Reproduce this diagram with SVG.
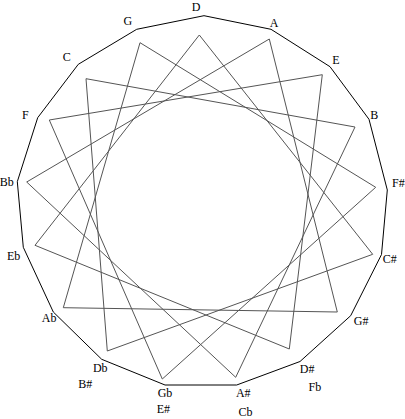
<svg xmlns="http://www.w3.org/2000/svg" width="405" height="419" viewBox="0 0 405 419">
<style>
text{font-family:"Liberation Serif","Times New Roman",serif;font-size:12px;fill:#000;text-anchor:middle}
.outer{fill:none;stroke:#000;stroke-width:1}
.star{fill:none;stroke:#555;stroke-width:1}
</style>
<rect width="405" height="419" fill="#fff"/>
<g id="outline">
<polygon class="outer" points="204,15.7 271,29.3 330,66.7 369,119.3 387.3,190 381.5,254.5 350.7,315.7 300,361.5 236.7,385 165,385 101.7,359.3 53.3,312 23.3,247.3 17.3,181.7 37.7,117.7 78.3,64.3 136.7,29.3"/>
</g>
<g id="connectors">
<polygon class="star" points="199.3,35 372.7,254.3 107.3,351 86,78.7 355,127 235.7,377.3 26.7,182 269.3,39 337.3,312 63.3,307.7 140,42.7 375.7,187.3 162.3,379 49.3,120 322.3,74.7 289.3,349 35,245.3"/>
</g>
<g id="node-D"><text x="196" y="11">D</text></g>
<g id="node-A"><text x="274.2" y="26.7">A</text></g>
<g id="node-E"><text x="336" y="64">E</text></g>
<g id="node-B"><text x="374.3" y="119">B</text></g>
<g id="node-Fsharp"><text x="398.3" y="186.7">F#</text></g>
<g id="node-Csharp"><text x="389.7" y="262.7">C#</text></g>
<g id="node-Gsharp"><text x="361.2" y="325.3">G#</text></g>
<g id="node-Dsharp"><text x="307.2" y="373.3">D#</text><text x="314.8" y="391">Fb</text></g>
<g id="node-Asharp"><text x="243.3" y="396.7">A#</text><text x="245.5" y="415.7">Cb</text></g>
<g id="node-Gb"><text x="165" y="396.7">Gb</text><text x="163.3" y="413.3">E#</text></g>
<g id="node-Db"><text x="100.3" y="371.7">Db</text><text x="85.3" y="387.7">B#</text></g>
<g id="node-Ab"><text x="49.2" y="321.7">Ab</text></g>
<g id="node-Eb"><text x="13.7" y="260">Eb</text></g>
<g id="node-Bb"><text x="6.7" y="186">Bb</text></g>
<g id="node-F"><text x="25.3" y="118.7">F</text></g>
<g id="node-C"><text x="66.7" y="61">C</text></g>
<g id="node-G"><text x="127.8" y="25">G</text></g>
</svg>
